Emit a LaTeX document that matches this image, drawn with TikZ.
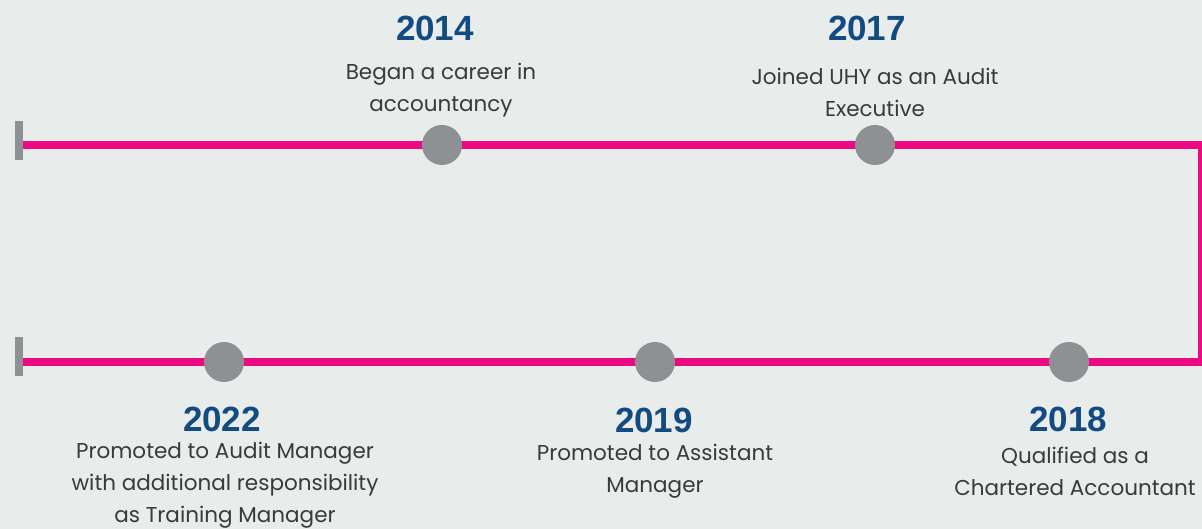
\documentclass[tikz,border=0pt]{standalone}
\usepackage{fontspec}
\setmainfont{Poppins}
\newfontfamily\yearfont{Liberation Sans}
\definecolor{bg}{HTML}{E8ECEB}
\definecolor{pinkline}{HTML}{EC0A80}
\definecolor{dotgray}{HTML}{8E9194}
\definecolor{yearblue}{HTML}{124A82}
\definecolor{txt}{HTML}{3A3A3A}
\tikzset{
  dot/.style={circle, fill=dotgray, minimum size=40pt, inner sep=0pt},
  yearlabel/.style={text=yearblue, font=\yearfont\bfseries\fontsize{35}{35}\selectfont, inner sep=0pt},
  desc/.style={text=txt, align=center, font=\fontsize{21.5}{32}\selectfont, inner sep=0pt},
  endbar/.style={fill=dotgray},
  timeline/.style={draw=pinkline, line width=8pt},
}
\begin{document}
\begin{tikzpicture}[x=1pt,y=-1pt]
\useasboundingbox (0,0) rectangle (1202,529);
\fill[bg] (0,0) rectangle (1202,529);
\coordinate (tl) at (23,145);
\coordinate (tr) at (1202,145);
\coordinate (br) at (1202,362);
\coordinate (bl) at (23,362);
\draw[timeline] (tl) -- (tr) -- (br) -- (bl);
\fill[endbar] (15,121) rectangle (23,160);
\fill[endbar] (15,337) rectangle (23,376);
\node[dot] (d2014) at (442,145) {};
\node[dot] (d2017) at (875,145) {};
\node[dot] (d2022) at (224,362) {};
\node[dot] (d2019) at (655,362) {};
\node[dot] (d2018) at (1069,362) {};
\node[yearlabel] (y2014) at (435,28) {2014};
\node[yearlabel] (y2017) at (867,28) {2017};
\node[yearlabel] (y2022) at (222,419) {2022};
\node[yearlabel] (y2019) at (654,420) {2019};
\node[yearlabel] (y2018) at (1068,419) {2018};
\node[desc] (t2014) at (441,90) {Began a career in\\accountancy};
\node[desc] (t2017) at (875,92) {Joined UHY as an Audit\\Executive};
\node[desc] (t2022) at (225,485.5) {Promoted to Audit Manager\\with additional responsibility\\as Training Manager};
\node[desc] (t2019) at (655,471) {Promoted to Assistant\\Manager};
\node[desc] (t2018) at (1075,471) {Qualified as a\\Chartered Accountant};
\end{tikzpicture}
\end{document}
